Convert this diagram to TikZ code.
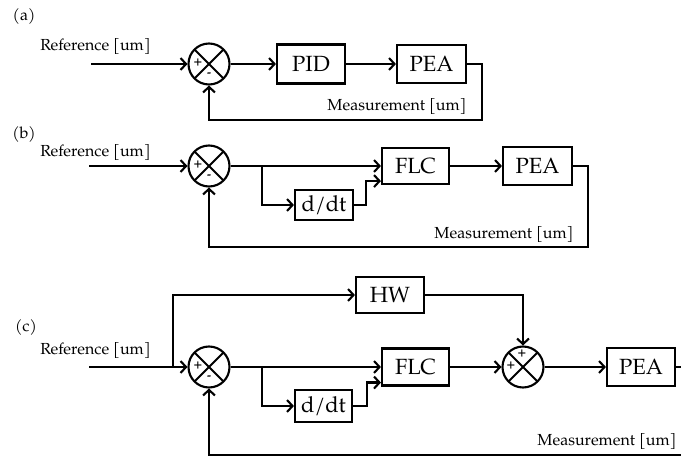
\documentclass[tikz,border=0pt]{standalone}
\usepackage{fontspec}
\setmainfont{TeX Gyre Pagella}
\usetikzlibrary{arrows.meta,calc}
\tikzset{
  lw/.style={line width=2.1pt},
  blk/.style={draw, lw, font=\fontsize{22}{24}\selectfont, inner sep=0pt},
  sumc/.style={draw, circle, lw, minimum size=41pt, inner sep=0pt,
    path picture={\draw[lw] (path picture bounding box.north west) -- (path picture bounding box.south east)
      (path picture bounding box.north east) -- (path picture bounding box.south west);}},
  lbl/.style={font=\fontsize{16}{18}\selectfont, inner sep=0pt},
  sgn/.style={font=\fontsize{12}{12}\selectfont\bfseries, inner sep=0pt},
  arr/.style={lw, -{Straight Barb[length=5.5pt,width=12pt,line width=2.1pt]}},
}
\begin{document}
\begin{tikzpicture}[x=1pt,y=-1pt]
\useasboundingbox (0,0) rectangle (681,457);
% ---------------- (a)
\node[lbl] (la) at (24,17) {(a)};
\node[lbl] (ra) at (95.5,47) {Reference [um]};
\coordinate (ia) at (91,64);
\node[sumc] (s1) at (209,64) {};
\node[sgn] (s1p) at ($(s1)+(-11,-1)$) {+};
\node[sgn] (s1m) at ($(s1)+(0,11)$) {-};
\node[blk, minimum width=68pt, minimum height=39pt] (pid) at (311,64) {PID};
\node[blk, minimum width=69pt, minimum height=38pt] (pea1) at (431.5,64) {PEA};
\coordinate (ca) at (482,120);
\node[lbl] (ma) at (397,107) {Measurement [um]};
\draw[arr] (ia) -- (s1);
\draw[arr] (s1) -- (pid);
\draw[arr] (pid) -- (pea1);
\draw[arr] (pea1.east) -| (ca) -| (s1.south);
% ---------------- (b)
\node[lbl] (lb) at (24,135) {(b)};
\node[lbl] (rb) at (95.5,153) {Reference [um]};
\coordinate (ib) at (89,166);
\node[sumc] (s2) at (209,166) {};
\node[sgn] (s2p) at ($(s2)+(-11,-1)$) {+};
\node[sgn] (s2m) at ($(s2)+(0,11)$) {-};
\coordinate (b2) at (262,166);
\node[blk, minimum width=58pt, minimum height=30pt] (ddt2) at (324,205) {d/dt};
\node[blk, minimum width=67pt, minimum height=36pt] (flc2) at (415.5,166) {FLC};
\node[blk, minimum width=69pt, minimum height=38pt] (pea2) at (537.5,166) {PEA};
\coordinate (cb) at (588,247);
\node[lbl] (mb) at (504,235) {Measurement [um]};
\draw[arr] (ib) -- (s2);
\draw[arr] (s2) -- (flc2);
\draw[arr] (b2) |- (ddt2);
\draw[arr] (ddt2.east) -- ++(12,0) |- ([yshift=4pt]flc2.south west);
\draw[arr] (flc2) -- (pea2);
\draw[arr] (pea2.east) -| (cb) -| (s2.south);
% ---------------- (c)
\node[lbl] (lc) at (26,328) {(c)};
\node[lbl] (rc) at (95.5,351) {Reference [um]};
\coordinate (ic) at (89,367);
\coordinate (br3) at (173,367);
\node[sumc] (s3) at (209,367) {};
\node[sgn] (s3p) at ($(s3)+(-11,-1)$) {+};
\node[sgn] (s3m) at ($(s3)+(0,11)$) {-};
\node[blk, minimum width=68pt, minimum height=36pt] (hw) at (390,295) {HW};
\coordinate (b3) at (262,367);
\node[blk, minimum width=57pt, minimum height=32pt] (ddt3) at (323.5,406) {d/dt};
\node[blk, minimum width=67pt, minimum height=37pt] (flc3) at (415.5,367) {FLC};
\node[sumc] (s4) at (523,367) {};
\node[sgn] (s4t) at ($(s4)+(-1,-13)$) {+};
\node[sgn] (s4l) at ($(s4)+(-12,-1)$) {+};
\node[blk, minimum width=68pt, minimum height=38pt] (pea3) at (641,367) {PEA};
\coordinate (oc) at (681,367);
\coordinate (cc) at (681,455);
\node[lbl] (mc) at (607,442) {Measurement [um]};
\draw[arr] (ic) -- (s3);
\draw[arr] (br3) |- (hw);
\draw[arr] (s3) -- (flc3);
\draw[arr] (b3) |- (ddt3);
\draw[arr] (ddt3.east) -- ++(14,0) |- ([yshift=4pt]flc3.south west);
\draw[arr] (hw) -| (s4);
\draw[arr] (flc3) -- (s4);
\draw[arr] (s4) -- (pea3);
\draw[lw] (pea3) -- (oc);
\draw[arr] (cc) -| (s3.south);
\end{tikzpicture}
\end{document}
